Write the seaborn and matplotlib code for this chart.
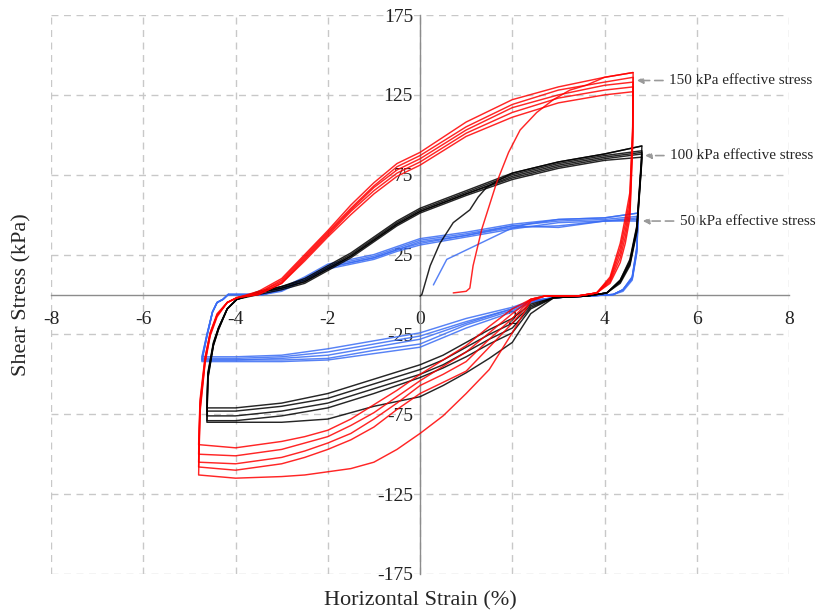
import pandas as pd
import seaborn as sns
import matplotlib.pyplot as plt

# ---- 150 kPa effective stress (red) ----
red_init_x = [0.72, 1.00, 1.08, 1.15, 1.34, 1.66, 1.92, 2.17, 2.53, 2.89, 3.25, 3.60, 4.00, 4.62]
red_init_y = [1, 2, 4, 18, 41, 70, 89, 103, 114, 122, 128, 131, 136, 139]
red_up_x = [-3.97, -3.5, -3.0, -2.5, -2.0, -1.5, -1.0, -0.5, 0.0, 1.0, 2.0, 3.0, 4.0, 4.62]
red_up_y = [
    [-2, 2, 10, 25, 40, 56, 70, 82, 89, 108, 122, 130, 136, 139],
    [-2, 1, 9, 24, 39, 54, 68, 80, 87, 105, 119, 128, 133, 136],
    [-2, 1, 8, 23, 38, 53, 67, 78, 85, 103, 117, 125, 131, 133],
    [-2, 0, 7, 22, 37, 52, 65, 76, 83, 101, 114, 123, 128, 130],
    [-2, 0, 7, 21, 36, 50, 63, 74, 81, 99, 111, 120, 125, 127],
]
red_down_x = [4.62, 4.61, 4.55, 4.45, 4.34, 4.12, 3.83, 3.4, 2.7, 2.4, 2.0, 1.5, 1.0, 0.5, 0.0,
              -0.5, -1.0, -1.5, -2.0, -2.5, -3.0, -4.0, -4.8, -4.77, -4.66, -4.55, -4.4, -4.18, -3.97]
red_down_y = [
    [139, 105, 64, 48, 32, 11, 1, -1, -1, -4, -24, -47, -62, -76, -87,
     -97, -105, -109, -111, -113, -114, -115, -113, -74, -43, -26, -14, -5, -2],
    [136, 102, 60, 44, 29, 10, 1, -1, -1, -4, -18, -33, -48, -55, -62,
     -72, -83, -91, -97, -102, -106, -110, -108, -72, -42, -25, -13, -5, -2],
    [133, 99, 56, 40, 26, 9, 1, -1, -1, -3, -15, -28, -42, -50, -57,
     -68, -78, -87, -93, -98, -102, -106, -105, -70, -41, -25, -13, -5, -2],
    [130, 96, 52, 36, 23, 8, 1, -1, -1, -3, -12, -24, -36, -45, -54,
     -64, -74, -82, -89, -93, -97, -101, -100, -68, -40, -24, -13, -5, -2],
    [127, 93, 48, 32, 20, 7, 1, -1, -1, -3, -9, -20, -32, -41, -50,
     -60, -69, -78, -85, -89, -92, -96, -94, -66, -39, -24, -12, -5, -2],
]

# ---- 100 kPa effective stress (black) ----
blk_init_x = [0.0, 0.04, 0.22, 0.43, 0.72, 1.08, 1.26, 1.44, 1.73, 2.0, 3.0, 4.0, 4.81]
blk_init_y = [-1, 0, 18, 32, 45, 53, 61, 67, 72, 76, 83, 88, 93]
blk_up_x = [-3.97, -3.5, -3.0, -2.5, -2.0, -1.5, -1.0, -0.5, 0.0, 1.0, 2.0, 3.0, 4.0, 4.81]
blk_up_y = [
    [-3, 2, 5, 10, 18, 26, 36, 46, 54, 65, 76, 83, 88, 93],
    [-3, 1, 5, 9, 17, 25, 35, 45, 53, 64, 75, 82, 87, 90],
    [-3, 1, 4, 8, 16, 24, 34, 44, 52, 63, 74, 81, 86, 89],
    [-3, 1, 4, 8, 16, 24, 34, 44, 52, 63, 73, 80, 85, 88],
    [-3, 0, 3, 7, 15, 23, 33, 43, 51, 62, 72, 79, 84, 86],
]
blk_down_x = [4.81, 4.8, 4.7, 4.55, 4.34, 4.05, 3.6, 2.9, 2.4, 2.0, 1.5, 1.0, 0.5, 0.0,
              -1.0, -2.0, -3.0, -4.0, -4.62, -4.6, -4.48, -4.37, -4.18, -3.97]
blk_down_y = [
    [93, 85, 43, 22, 9, 1, -1, -2, -12, -30, -40, -49, -57, -64, -70, -78, -80, -80, -80, -53, -32, -22, -9, -3],
    [90, 83, 42, 21, 9, 1, -1, -2, -9, -24, -31, -39, -46, -52, -62, -71, -76, -79, -79, -52, -32, -22, -9, -3],
    [89, 82, 41, 20, 8, 1, -1, -2, -8, -21, -28, -36, -44, -50, -59, -68, -73, -76, -76, -51, -31, -21, -9, -3],
    [88, 81, 40, 19, 8, 1, -1, -2, -7, -18, -25, -33, -41, -47, -56, -65, -70, -73, -73, -50, -31, -21, -9, -3],
    [86, 80, 39, 18, 7, 1, -1, -2, -6, -15, -22, -30, -38, -44, -53, -62, -68, -71, -71, -49, -30, -21, -9, -3],
]

# ---- 50 kPa effective stress (blue) ----
blu_init_x = [0.29, 0.58, 1.23, 1.95, 2.3, 3.0, 4.0, 4.73]
blu_init_y = [6, 22, 31, 41, 44, 47, 48, 51]
blu_up_x = [-4.16, -3.4, -3.0, -2.5, -2.0, -1.5, -1.0, -0.5, 0.0, 1.0, 2.0, 3.0, 4.0, 4.73]
blu_up_y = [
    [0, 0, 4, 11, 19, 22, 25, 30, 35, 39, 44, 47, 48, 51],
    [0, 0, 3, 10, 18, 21, 24, 29, 34, 38, 43, 46, 47, 49],
    [0, 0, 3, 10, 17, 20, 23, 28, 33, 37, 43, 42, 46, 48],
    [0, 0, 3, 9, 17, 20, 23, 28, 32, 37, 42, 43, 46, 47],
    [0, 0, 2, 9, 16, 19, 22, 27, 31, 36, 41, 45, 46, 46],
]
blu_down_x = [4.73, 4.72, 4.7, 4.6, 4.4, 4.19, 3.6, 2.9, 2.4, 2.0, 1.0, 0.0,
              -1.0, -2.0, -3.0, -4.0, -4.73, -4.62, -4.5, -4.4, -4.27, -4.16]
blu_down_y = [
    [51, 46, 30, 11, 3, 0, -1, -2, -5, -11, -21, -33, -37, -41, -42, -42, -42, -26, -11, -5, -3, 0],
    [49, 45, 29, 11, 3, 0, -1, -2, -5, -10, -19, -31, -35, -40, -41, -41, -41, -26, -11, -5, -3, 0],
    [48, 44, 28, 10, 3, 0, -1, -2, -4, -9, -18, -28, -33, -38, -40, -41, -41, -26, -11, -5, -3, 0],
    [47, 43, 27, 10, 3, 0, -1, -2, -4, -9, -17, -26, -31, -36, -39, -40, -40, -25, -11, -5, -3, 0],
    [46, 42, 26, 9, 2, 0, -1, -2, -4, -8, -15, -24, -29, -34, -38, -39, -39, -25, -11, -5, -3, 0],
]

levels = ['50 kPa', '100 kPa', '150 kPa']
colors = {'50 kPa': '#3a6cf4', '100 kPa': '#000000', '150 kPa': '#ff0000'}
x_ticks = [-8, -6, -4, -2, 0, 2, 4, 6, 8]
y_ticks = [-175, -125, -75, -25, 25, 75, 125, 175]


def build_paths(level, init_x, init_y, up_x, up_y, down_x, down_y):
    rows = []
    for i, (x, y) in enumerate(zip(init_x, init_y)):
        rows.append({'level': level, 'path': level + '-0', 'i': i, 'x': x, 'y': y})
    for c, (uy, dy) in enumerate(zip(up_y, down_y), start=1):
        for i, (x, y) in enumerate(zip(up_x + down_x, uy + dy)):
            rows.append({'level': level, 'path': f'{level}-{c}', 'i': i, 'x': x, 'y': y})
    return rows


rows = []
rows += build_paths('50 kPa', blu_init_x, blu_init_y, blu_up_x, blu_up_y, blu_down_x, blu_down_y)
rows += build_paths('100 kPa', blk_init_x, blk_init_y, blk_up_x, blk_up_y, blk_down_x, blk_down_y)
rows += build_paths('150 kPa', red_init_x, red_init_y, red_up_x, red_up_y, red_down_x, red_down_y)
df = pd.DataFrame(rows)

sns.set_style('white')
plt.rcParams['font.family'] = ['Liberation Serif', 'DejaVu Serif']
plt.rcParams['axes.unicode_minus'] = False

fig = plt.figure(figsize=(8.19, 6.16), dpi=100)
ax = fig.add_axes([0.0623, 0.0682, 0.9011, 0.9074])

for lev in levels:
    sub = df[df['level'] == lev]
    sns.lineplot(data=sub, x='x', y='y', units='path', estimator=None, sort=False,
                 color=colors[lev], lw=1.05, alpha=0.85, legend=False, ax=ax)

ax.set_xlim(-8, 8)
ax.set_ylim(-175, 175)
ax.set_xticks(x_ticks)
ax.set_yticks(y_ticks)
ax.grid(True, color='#c8c8c8', linestyle=(0, (5, 4)), lw=1)
ax.set_axisbelow(True)

for s in ['top', 'right']:
    ax.spines[s].set_visible(False)
ax.spines['left'].set_position(('data', 0))
ax.spines['bottom'].set_position(('data', 0))
for s in ['left', 'bottom']:
    ax.spines[s].set_color('#8c8c8c')
    ax.spines[s].set_linewidth(1.0)
    ax.spines[s].set_zorder(1)

ax.tick_params(axis='y', direction='out', length=5, width=1, color='#8c8c8c',
               pad=0, labelsize=14, labelcolor='#222222')
ax.tick_params(axis='x', direction='out', length=4, width=1, color='#8c8c8c',
               pad=8, labelsize=14, labelcolor='#222222')
ax.set_xlabel('')
ax.set_ylabel('')

fig.text(0.513, 0.024, 'Horizontal Strain (%)', ha='center', va='center', fontsize=16)
fig.text(0.027, 0.522, 'Shear Stress (kPa)', ha='center', va='center', rotation=90, fontsize=16)

arrow = dict(arrowstyle='-|>', color='#9a9a9a', lw=1.2, linestyle=(0, (5, 3)),
             shrinkA=2, shrinkB=0, mutation_scale=9)
ax.annotate('150 kPa effective stress', xy=(4.70, 134), xytext=(5.40, 134),
            ha='left', va='center', fontsize=10.9, arrowprops=arrow)
ax.annotate('100 kPa effective stress', xy=(4.88, 87), xytext=(5.42, 87),
            ha='left', va='center', fontsize=10.9, arrowprops=arrow)
ax.annotate('50 kPa effective stress', xy=(4.83, 46), xytext=(5.63, 46),
            ha='left', va='center', fontsize=10.9, arrowprops=arrow)

fig.savefig('out.png', dpi=100)
plt.close(fig)
